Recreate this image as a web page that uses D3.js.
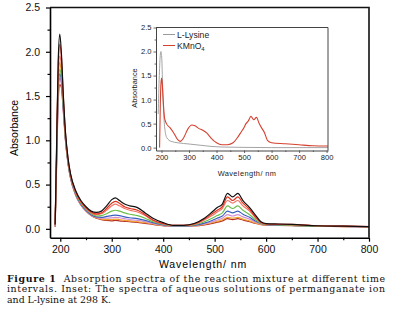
<!DOCTYPE html>
<html>
<head>
<meta charset="utf-8">
<script src="https://cdn.jsdelivr.net/npm/d3@7"></script>
<style>
  body { margin: 0; background: #fff; }
  svg { display: block; }
  .axis text { font-family: "Liberation Sans", Arial, sans-serif; fill: #111; }
  .caption { font-family: "DejaVu Serif", "Liberation Serif", serif; font-size: 9.4px; fill: #111; }
</style>
</head>
<body>
<div id="chart"></div>
<script>
// ---- main spectra (absorbance vs wavelength) ----
const wavelengths = [190, 193, 196, 199, 202, 206, 210, 215, 220, 230, 240, 250, 260, 270, 280, 290, 300, 307, 315, 325, 335, 350, 365, 380, 400, 420, 440, 460, 480, 495, 505, 515, 525, 535, 545, 555, 568, 580, 590, 600, 625, 650, 700, 750, 800];

const seriesNames = ['t8', 't7', 't6', 't5', 't4', 't3', 't2', 't1'];
const seriesColors = ['#b52a22', '#f2a530', '#d48fd0', '#3a5fc0', '#6cbf4a', '#f27565', '#e0321f', '#111111'];

const absT1 = [0.05, 1.00, 1.90, 2.20, 2.00, 1.50, 1.10, 0.80, 0.62, 0.43, 0.32, 0.25, 0.20, 0.185, 0.20, 0.26, 0.33, 0.35, 0.32, 0.28, 0.26, 0.24, 0.18, 0.12, 0.07, 0.04, 0.04, 0.06, 0.12, 0.19, 0.24, 0.28, 0.40, 0.36, 0.40, 0.32, 0.24, 0.15, 0.08, 0.06, 0.055, 0.05, 0.035, 0.03, 0.025];
const absT2 = [0.05, 0.95, 1.85, 2.08, 1.95, 1.48, 1.08, 0.79, 0.61, 0.42, 0.31, 0.24, 0.19, 0.17, 0.18, 0.23, 0.29, 0.31, 0.29, 0.25, 0.23, 0.21, 0.16, 0.10, 0.06, 0.04, 0.04, 0.055, 0.11, 0.17, 0.21, 0.25, 0.36, 0.32, 0.36, 0.29, 0.22, 0.13, 0.075, 0.055, 0.05, 0.05, 0.035, 0.03, 0.025];
const absT3 = [0.04, 0.90, 1.75, 1.95, 1.85, 1.44, 1.06, 0.78, 0.60, 0.41, 0.30, 0.23, 0.18, 0.16, 0.17, 0.21, 0.26, 0.28, 0.26, 0.23, 0.21, 0.19, 0.15, 0.095, 0.055, 0.04, 0.04, 0.05, 0.10, 0.15, 0.19, 0.23, 0.32, 0.29, 0.32, 0.26, 0.20, 0.12, 0.07, 0.055, 0.05, 0.045, 0.035, 0.03, 0.025];
const absT4 = [0.04, 0.85, 1.62, 1.80, 1.72, 1.38, 1.03, 0.76, 0.59, 0.40, 0.29, 0.22, 0.17, 0.145, 0.15, 0.17, 0.20, 0.21, 0.20, 0.18, 0.165, 0.15, 0.12, 0.08, 0.05, 0.035, 0.035, 0.045, 0.08, 0.12, 0.15, 0.18, 0.26, 0.23, 0.26, 0.21, 0.16, 0.10, 0.065, 0.05, 0.045, 0.04, 0.03, 0.028, 0.025];
const absT5 = [0.04, 0.82, 1.58, 1.75, 1.68, 1.36, 1.02, 0.75, 0.58, 0.39, 0.28, 0.21, 0.16, 0.135, 0.13, 0.14, 0.15, 0.155, 0.15, 0.135, 0.125, 0.115, 0.095, 0.07, 0.045, 0.033, 0.033, 0.04, 0.065, 0.095, 0.12, 0.145, 0.20, 0.18, 0.20, 0.165, 0.13, 0.085, 0.06, 0.048, 0.043, 0.04, 0.03, 0.027, 0.024];
const absT6 = [0.03, 0.80, 1.52, 1.70, 1.64, 1.34, 1.01, 0.74, 0.57, 0.38, 0.27, 0.20, 0.155, 0.13, 0.12, 0.12, 0.125, 0.13, 0.125, 0.115, 0.105, 0.095, 0.08, 0.06, 0.04, 0.03, 0.03, 0.037, 0.055, 0.08, 0.10, 0.12, 0.16, 0.145, 0.16, 0.135, 0.11, 0.075, 0.055, 0.045, 0.042, 0.04, 0.03, 0.027, 0.024];
const absT7 = [0.03, 0.88, 1.70, 1.88, 1.76, 1.40, 1.03, 0.75, 0.58, 0.38, 0.27, 0.20, 0.15, 0.125, 0.11, 0.105, 0.105, 0.11, 0.105, 0.095, 0.09, 0.08, 0.07, 0.055, 0.037, 0.028, 0.028, 0.034, 0.05, 0.07, 0.085, 0.10, 0.13, 0.12, 0.13, 0.11, 0.09, 0.065, 0.05, 0.042, 0.04, 0.038, 0.03, 0.026, 0.023];
const absT8 = [0.02, 0.75, 1.45, 1.63, 1.60, 1.32, 1.00, 0.74, 0.57, 0.38, 0.27, 0.20, 0.15, 0.12, 0.105, 0.095, 0.09, 0.095, 0.09, 0.085, 0.08, 0.072, 0.062, 0.05, 0.035, 0.027, 0.027, 0.032, 0.045, 0.06, 0.075, 0.09, 0.115, 0.105, 0.115, 0.10, 0.08, 0.06, 0.048, 0.04, 0.038, 0.036, 0.03, 0.026, 0.023];
const seriesValues = [absT8, absT7, absT6, absT5, absT4, absT3, absT2, absT1];

// ---- inset spectra ----
const lysWl  = [188, 192, 196, 198, 201, 204, 208, 213, 220, 235, 260, 300, 340, 380, 420, 500, 600, 700, 805];
const lysAbs = [0.70, 1.50, 1.95, 2.00, 1.85, 1.30, 0.70, 0.35, 0.20, 0.13, 0.10, 0.075, 0.05, 0.025, 0.012, 0.005, 0.0, 0.0, 0.0];
const mnWl  = [193, 196, 199, 201, 204, 207, 211, 218, 230, 245, 258, 268, 280, 295, 310, 320, 335, 350, 365, 380, 400, 420, 440, 460, 475, 490, 500, 507, 515, 525, 535, 545, 555, 565, 575, 585, 600, 650, 700, 750, 805];
const mnAbs = [0.0, 1.00, 1.40, 1.45, 1.20, 0.90, 0.62, 0.50, 0.42, 0.30, 0.17, 0.13, 0.20, 0.38, 0.47, 0.46, 0.40, 0.36, 0.30, 0.20, 0.10, 0.06, 0.06, 0.10, 0.20, 0.33, 0.42, 0.50, 0.55, 0.65, 0.58, 0.63, 0.50, 0.40, 0.30, 0.15, 0.10, 0.08, 0.06, 0.04, 0.035];

const yTicks = [0.0, 0.5, 1.0, 1.5, 2.0, 2.5];
const yMinor = [0.25, 0.75, 1.25, 1.75, 2.25];
const xTicks = [200, 300, 400, 500, 600, 700, 800];
const xMinor = [250, 350, 450, 550, 650, 750];

const captionLines = [
    ['Figure 1', '  Absorption spectra of the reaction mixture at different time'],
    ['', 'intervals. Inset: The spectra of aqueous solutions of permanganate ion'],
    ['', 'and L-lysine at 298 K.']
];

const width = 394, height = 320;
const svg = d3.select('#chart').append('svg')
    .attr('width', width)
    .attr('height', height);

// ===== main plot =====
const x = d3.scaleLinear().domain([180, 800]).range([50, 369]);
const y = d3.scaleLinear().domain([-0.1, 2.5]).range([237.7, 7.5]);

const line = d3.line()
    .x(d => x(d[0]))
    .y(d => y(d[1]))
    .curve(d3.curveMonotoneX);

seriesValues.forEach((vals, i) => {
    svg.append('path')
        .datum(wavelengths.map((w, j) => [w, vals[j]]))
        .attr('fill', 'none')
        .attr('stroke', seriesColors[i])
        .attr('stroke-width', 1.2)
        .attr('d', line);
});

const xAxis = svg.append('g')
    .attr('class', 'axis')
    .attr('transform', `translate(0,${y.range()[0]})`)
    .call(d3.axisBottom(x).tickValues(xTicks).tickSize(4).tickPadding(4).tickSizeOuter(0));
xAxis.selectAll('text').style('font-size', '10.5px');
svg.append('g')
    .attr('class', 'axis')
    .attr('transform', `translate(0,${y.range()[0]})`)
    .call(d3.axisBottom(x).tickValues(xMinor).tickSize(2.5).tickFormat('').tickSizeOuter(0))
    .select('.domain').remove();

const yAxis = svg.append('g')
    .attr('class', 'axis')
    .attr('transform', `translate(${x.range()[0]},0)`)
    .call(d3.axisLeft(y).tickValues(yTicks).tickFormat(d3.format('.1f')).tickSize(4).tickPadding(6).tickSizeOuter(0));
yAxis.selectAll('text').style('font-size', '10.5px');
svg.append('g')
    .attr('class', 'axis')
    .attr('transform', `translate(${x.range()[0]},0)`)
    .call(d3.axisLeft(y).tickValues(yMinor).tickSize(2.5).tickFormat('').tickSizeOuter(0))
    .select('.domain').remove();

svg.selectAll('.axis .domain').attr('stroke-width', 1.6);
svg.selectAll('.axis .tick line').attr('stroke-width', 1.2);

// frame top/right
svg.append('path')
    .attr('d', `M${x.range()[0]},${y.range()[1]}H${x.range()[1]}V${y.range()[0]}`)
    .attr('fill', 'none')
    .attr('stroke', '#111')
    .attr('stroke-width', 1.6);

svg.append('text')
    .attr('x', 203).attr('y', 268)
    .attr('text-anchor', 'middle')
    .style('font-family', '"Liberation Sans", Arial, sans-serif')
    .style('font-size', '10.5px')
    .style('letter-spacing', '0.9px')
    .text('Wavelength/ nm');

svg.append('text')
    .attr('transform', 'translate(18,128) rotate(-90)')
    .attr('text-anchor', 'middle')
    .style('font-family', '"Liberation Sans", Arial, sans-serif')
    .style('font-size', '10.5px')
    .text('Absorbance');

// ===== inset =====
const ix = d3.scaleLinear().domain([180, 805]).range([156, 328]);
const iy = d3.scaleLinear().domain([-0.06, 2.5]).range([150.5, 27.5]);

const iline = d3.line()
    .x(d => ix(d[0]))
    .y(d => iy(d[1]))
    .curve(d3.curveMonotoneX);

svg.append('path')
    .datum(lysWl.map((w, j) => [w, lysAbs[j]]))
    .attr('fill', 'none').attr('stroke', '#9a9a9a').attr('stroke-width', 0.9)
    .attr('d', iline);
svg.append('path')
    .datum(mnWl.map((w, j) => [w, mnAbs[j]]))
    .attr('fill', 'none').attr('stroke', '#d5412f').attr('stroke-width', 1.1)
    .attr('d', iline);

svg.append('g')
    .attr('class', 'axis inset')
    .attr('transform', `translate(0,${iy.range()[0]})`)
    .call(d3.axisBottom(ix).tickValues(xTicks).tickSize(2.5).tickPadding(2).tickSizeOuter(0));
svg.append('g')
    .attr('class', 'axis inset')
    .attr('transform', `translate(0,${iy.range()[0]})`)
    .call(d3.axisBottom(ix).tickValues(xMinor).tickSize(1.5).tickFormat('').tickSizeOuter(0))
    .select('.domain').remove();
svg.append('g')
    .attr('class', 'axis inset')
    .attr('transform', `translate(${ix.range()[0]},0)`)
    .call(d3.axisLeft(iy).tickValues(yTicks).tickFormat(d3.format('.1f')).tickSize(2.5).tickPadding(2).tickSizeOuter(0));
svg.append('g')
    .attr('class', 'axis inset')
    .attr('transform', `translate(${ix.range()[0]},0)`)
    .call(d3.axisLeft(iy).tickValues(yMinor).tickSize(1.5).tickFormat('').tickSizeOuter(0))
    .select('.domain').remove();

svg.selectAll('.inset text').style('font-size', '7.6px').style('fill', '#222');
svg.selectAll('.inset .domain').attr('stroke', '#444').attr('stroke-width', 1);
svg.selectAll('.inset .tick line').attr('stroke', '#444').attr('stroke-width', 0.8);

svg.append('path')
    .attr('d', `M${ix.range()[0]},${iy.range()[1]}H${ix.range()[1]}V${iy.range()[0]}`)
    .attr('fill', 'none').attr('stroke', '#444').attr('stroke-width', 1);

svg.append('text')
    .attr('x', 247).attr('y', 175.5)
    .attr('text-anchor', 'middle')
    .style('font-family', '"Liberation Sans", Arial, sans-serif')
    .style('font-size', '7.4px')
    .style('letter-spacing', '0.4px')
    .style('fill', '#222')
    .text('Wavelength/ nm');

svg.append('text')
    .attr('transform', 'translate(137,88) rotate(-90)')
    .attr('text-anchor', 'middle')
    .style('font-family', '"Liberation Sans", Arial, sans-serif')
    .style('font-size', '7.4px')
    .style('fill', '#222')
    .text('Absorbance');

// inset legend
const legend = svg.append('g').attr('transform', 'translate(163,34.5)');
[['L-Lysine', '#9a9a9a'], ['KMnO', '#d5412f']].forEach((item, i) => {
    legend.append('line')
        .attr('x1', 0).attr('x2', 12)
        .attr('y1', i * 11).attr('y2', i * 11)
        .attr('stroke', item[1]).attr('stroke-width', 1);
    const t = legend.append('text')
        .attr('x', 14).attr('y', i * 11 + 3)
        .style('font-family', '"Liberation Sans", Arial, sans-serif')
        .style('font-size', '8.6px')
        .style('fill', '#222')
        .text(item[0]);
    if (i === 1) {
        t.append('tspan').attr('dy', 2).style('font-size', '5.8px').text('4');
    }
});

// caption
captionLines.forEach((ln, i) => {
    const t = svg.append('text')
        .attr('class', 'caption')
        .attr('x', 7)
        .attr('y', 281.5 + i * 10.8)
        .attr('xml:space', 'preserve');
    if (i < 2) t.attr('textLength', 378).attr('lengthAdjust', 'spacing');
    if (ln[0]) t.append('tspan').style('font-weight', 'bold').text(ln[0]);
    t.append('tspan').text(ln[1]);
});
</script>
</body>
</html>
